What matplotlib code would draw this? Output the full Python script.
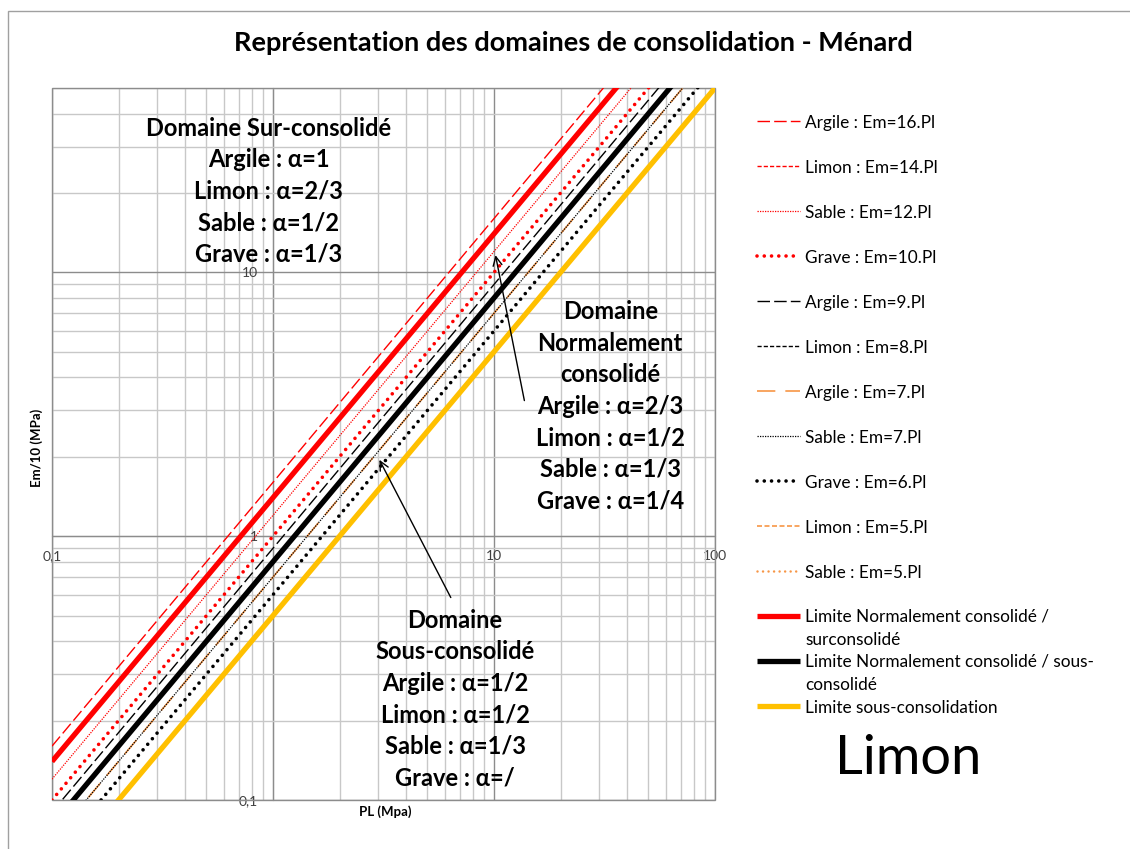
import matplotlib
matplotlib.use('Agg')
import matplotlib.pyplot as plt
from matplotlib.patches import Rectangle
from matplotlib.ticker import LogLocator, FuncFormatter, NullFormatter
import numpy as np

plt.rcParams['font.family'] = ['Lato', 'DejaVu Sans']

pl = np.array([0.1, 100.0])

series_labels = [
    'Argile : Em=16.Pl', 'Limon : Em=14.Pl', 'Sable : Em=12.Pl', 'Grave : Em=10.Pl',
    'Argile : Em=9.Pl', 'Limon : Em=8.Pl', 'Argile : Em=7.Pl', 'Sable : Em=7.Pl',
    'Grave : Em=6.Pl', 'Limon : Em=5.Pl', 'Sable : Em=5.Pl',
]
series_ratio = [16, 14, 12, 10, 9, 8, 7, 7, 6, 5, 5]

limit_labels = [
    'Limite Normalement consolidé /\nsurconsolidé',
    'Limite Normalement consolidé / sous-\nconsolidé',
    'Limite sous-consolidation',
]
limit_ratio = [14, 8, 5]

RED = '#FF0000'
BLACK = '#000000'
ORANGE = '#F79646'
YELLOW = '#FFC000'

# (color, linewidth, dashes, capstyle)
series_styles = [
    (RED, 1.0, (9, 3), 'butt'),
    (RED, 1.0, (3, 1.5), 'butt'),
    (RED, 0.9, (1, 1), 'butt'),
    (RED, 2.6, (0.01, 2.0), 'round'),
    (BLACK, 1.0, (9, 3), 'butt'),
    (BLACK, 1.0, (3, 1.5), 'butt'),
    (ORANGE, 1.2, (11, 6), 'butt'),
    (BLACK, 0.9, (1, 1), 'butt'),
    (BLACK, 2.6, (0.01, 2.0), 'round'),
    (ORANGE, 1.2, (3, 1.5), 'butt'),
    (ORANGE, 1.8, (0.01, 2.2), 'round'),
]
limit_colors = [RED, BLACK, YELLOW]

fig = plt.figure(figsize=(11.3, 8.49), dpi=100)
ax = fig.add_axes([52 / 1130, 1 - 800 / 849, 663 / 1130, 712 / 849])

for lab, k, (c, lw, dash, cap) in zip(series_labels, series_ratio, series_styles):
    line, = ax.plot(pl, k * pl / 10, color=c, lw=lw, label=lab)
    line.set_dashes(dash)
    line.set_dash_capstyle(cap)

for lab, k, c in zip(limit_labels, limit_ratio, limit_colors):
    ax.plot(pl, k * pl / 10, color=c, lw=3.8, label=lab, solid_capstyle='butt')

ax.set_xscale('log')
ax.set_yscale('log')
ax.set_xlim(0.1, 100)
ax.set_ylim(0.1, 50)

ax.xaxis.set_major_locator(LogLocator(base=10))
ax.yaxis.set_major_locator(LogLocator(base=10))
ax.xaxis.set_minor_locator(LogLocator(base=10, subs=np.arange(2, 10)))
ax.yaxis.set_minor_locator(LogLocator(base=10, subs=np.arange(2, 10)))
ax.xaxis.set_minor_formatter(NullFormatter())
ax.yaxis.set_minor_formatter(NullFormatter())


def fmt(v, hide_one=False):
    if hide_one and abs(v - 1) < 1e-9:
        return ''
    s = ('%g' % v).replace('.', ',')
    return s


ax.xaxis.set_major_formatter(FuncFormatter(lambda v, p: fmt(v, True)))
ax.yaxis.set_major_formatter(FuncFormatter(lambda v, p: fmt(v)))

ax.grid(which='major', color='#8C8C8C', lw=1.0)
ax.grid(which='minor', color='#C8C8C8', lw=1.0)
ax.set_axisbelow(True)

# axes cross at (1, 1)
ax.spines['left'].set_position(('data', 1))
ax.spines['bottom'].set_position(('data', 1))
for s in ['left', 'bottom']:
    ax.spines[s].set_color('#8C8C8C')
    ax.spines[s].set_zorder(0.5)
ax.spines['top'].set_visible(False)
ax.spines['right'].set_visible(False)
ax.add_patch(Rectangle((0, 0), 1, 1, transform=ax.transAxes, fill=False,
                       edgecolor='#8C8C8C', lw=1.0, clip_on=False, zorder=0.6))

ax.tick_params(which='both', length=0, labelsize=10, labelcolor='#404040')
ax.tick_params(axis='x', pad=10)
ax.tick_params(axis='y', pad=11)

ax.set_xlabel('PL (Mpa)', fontsize=9.5, fontweight='bold')
ax.set_ylabel('Em/10 (MPa)', fontsize=9.5, fontweight='bold')
ax.xaxis.set_label_coords(0.502, -0.008)
ax.yaxis.set_label_coords(-0.013, 0.495)

fig.text(573 / 1130, 1 - 43 / 849,
         'Représentation des domaines de consolidation - Ménard',
         ha='center', va='center', fontsize=19.5, fontweight='bold')

block_kw = dict(transform=ax.transAxes, ha='center', va='center',
                fontsize=17, fontweight='bold', linespacing=1.45, zorder=5)
ax.text(0.327, 0.855, 'Domaine Sur-consolidé\nArgile : α=1\nLimon : α=2/3\n'
        'Sable : α=1/2\nGrave : α=1/3', **block_kw)
ax.text(0.842, 0.553, 'Domaine\nNormalement\nconsolidé\nArgile : α=2/3\n'
        'Limon : α=1/2\nSable : α=1/3\nGrave : α=1/4', **block_kw)
ax.text(0.608, 0.142, 'Domaine\nSous-consolidé\nArgile : α=1/2\n'
        'Limon : α=1/2\nSable : α=1/3\nGrave : α=/', **block_kw)

arrow_kw = dict(arrowstyle='->', color='black', lw=1.0, mutation_scale=16)
ax.annotate('', xy=(10.1, 11.9), xytext=(13.8, 3.19), arrowprops=arrow_kw)
ax.annotate('', xy=(2.99, 1.99), xytext=(6.46, 0.573), arrowprops=arrow_kw)

leg = fig.legend(loc='upper left', bbox_to_anchor=(757 / 1130, 1 - 107.5 / 849),
                 frameon=False, fontsize=12.4, borderpad=0, borderaxespad=0,
                 handlelength=2.5, handletextpad=0.3, labelspacing=0.1,
                 handleheight=3.49)
for t in leg.get_texts():
    if '\n' in t.get_text():
        t.set_linespacing(1.6)
        t.set_y(-6)
    else:
        t.set_y(6)

fig.text(908 / 1130, 1 - 758 / 849, 'Limon', ha='center', va='center',
         fontsize=39)

# outer chart frame
fig.patches.append(Rectangle((8 / 1130, -0.1), 1.2, 1 - 11 / 849 + 0.1,
                             transform=fig.transFigure, fill=False,
                             edgecolor='#A0A0A0', lw=1.0))

fig.savefig('out.png', dpi=100)
